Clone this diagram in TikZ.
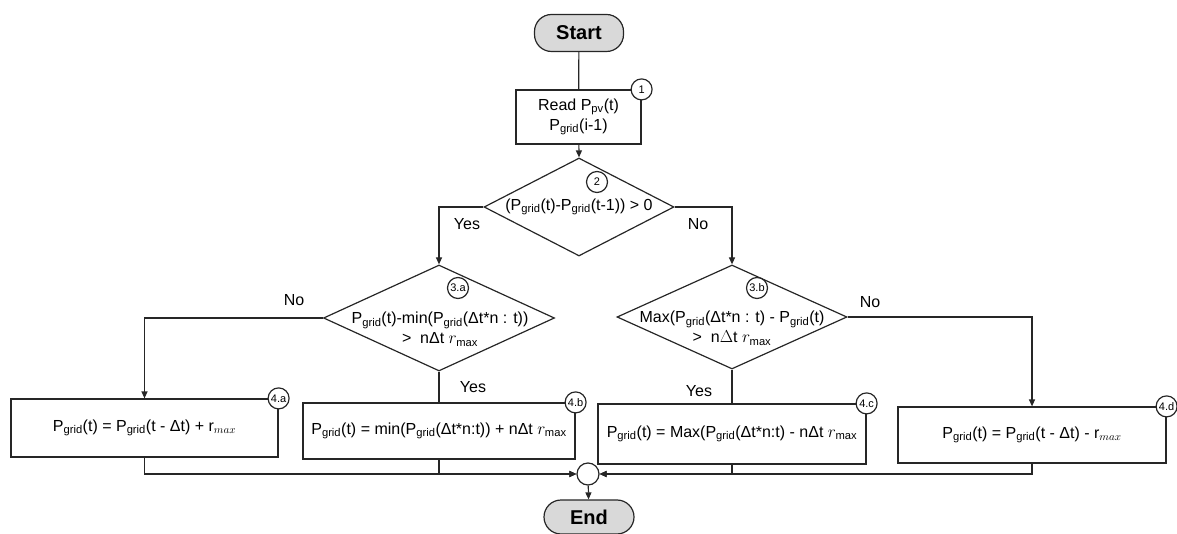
\documentclass[tikz,border=0pt]{standalone}
\usepackage{fontspec}
\setmainfont{Liberation Sans}
\usetikzlibrary{shapes.geometric,arrows.meta}
\newcommand{\gsub}[1]{\textsubscript{#1}}
\newcommand{\Pg}{P\gsub{grid}}
\begin{document}
\begin{tikzpicture}[x=1pt,y=-1pt,
  every node/.style={font=\fontsize{16}{19}\selectfont, text=black},
  line/.style={draw=black!85, line width=1.2pt},
  arr/.style={line, -{Triangle[length=7pt,width=6pt]}},
  term/.style={line, fill=black!15, rounded corners=17pt, minimum width=89pt, minimum height=37pt, font=\fontsize{20}{24}\selectfont\bfseries, inner sep=0pt},
  procbox/.style={line, rectangle, inner sep=0pt, align=center},
  decision/.style={line, diamond, inner sep=0pt},
  tag/.style={line, circle, fill=white, minimum size=21pt, inner sep=0pt, font=\fontsize{11}{12}\selectfont},
  lbl/.style={font=\fontsize{16}{19}\selectfont}
]
\useasboundingbox (0,0) rectangle (1177,534);

\node[term] (start) at (579,33) {Start};
\node[procbox, minimum width=125pt, minimum height=54pt] (b1) at (578.5,117) {Read P\gsub{pv}(t)\\[1pt]\Pg(i-1)};
\node[tag] (t1) at (b1.north east) {1};

\node[decision, minimum width=190pt, minimum height=98pt] (d2) at (579,207) {};
\node (d2t) at (579,207) {(\Pg(t)-\Pg(t-1)) > 0};
\node[tag] (t2) at (597,182) {2};

\node[decision, minimum width=231pt, minimum height=106pt] (d3a) at (439,318) {};
\node[align=center] (d3at) at (440,329) {\Pg(t)-min(\Pg(Δt*n : t))\\[1pt]>\ \ nΔt $r_{\max}$};
\node[tag] (t3a) at (458,288) {3.a};

\node[decision, minimum width=230pt, minimum height=104pt] (d3b) at (732,317) {};
\node[align=center] (d3bt) at (732,328) {Max(\Pg(Δt*n : t) - \Pg(t)\\[1pt]>\ \ n$\Delta$t $r_{\max}$};
\node[tag] (t3b) at (757,288) {3.b};

\node[procbox, minimum width=267pt, minimum height=58pt] (b4a) at (144.5,428) {\Pg(t) = \Pg(t - Δt) + $\mathrm{r}_{max}$};
\node[tag] (t4a) at (b4a.north east) {4.a};
\node[procbox, minimum width=272pt, minimum height=56pt] (b4b) at (439,431) {\Pg(t) = min(\Pg(Δt*n:t)) + nΔt $r_{\max}$};
\node[tag] (t4b) at (b4b.north east) {4.b};
\node[procbox, minimum width=268pt, minimum height=60pt] (b4c) at (732,434) {\Pg(t) = Max(\Pg(Δt*n:t) - nΔt $r_{\max}$};
\node[tag] (t4c) at (b4c.north east) {4.c};
\node[procbox, minimum width=268pt, minimum height=56pt] (b4d) at (1032,435) {\Pg(t) = \Pg(t - Δt) - $\mathrm{r}_{max}$};
\node[tag] (t4d) at (b4d.north east) {4.d};

\node[line, circle, minimum size=22pt, inner sep=0pt] (m) at (588,474) {};
\node[term, minimum width=90pt, minimum height=34pt] (end) at (589,517) {End};

% connectors
\draw[line] (start) -- (b1);
\draw[arr] (b1) -- (d2.north);
\draw[arr] (d2.west) -| (d3a.north);
\draw[arr] (d2.east) -| (d3b.north);
\draw[arr] (d3a.west) -| (b4a.north);
\draw[line] (d3a.south) -- (b4b.north);
\draw[line] (d3b.south) -- (b4c.north);
\draw[arr] (d3b.east) -| (b4d.north);
\draw[arr] (b4a.south) |- (m.west);
\draw[arr] (b4b.south) |- (m.west);
\draw[arr] (b4c.south) |- (m.east);
\draw[arr] (b4d.south) |- (m.east);
\draw[arr] (m) -- (end);

% branch labels
\node[lbl] (ly2) at (467,224) {Yes};
\node[lbl] (ln2) at (698,224) {No};
\node[lbl] (ln3a) at (294,300) {No};
\node[lbl] (ly3a) at (473,387) {Yes};
\node[lbl] (ly3b) at (699,391) {Yes};
\node[lbl] (ln3b) at (870,302) {No};
\end{tikzpicture}
\end{document}
